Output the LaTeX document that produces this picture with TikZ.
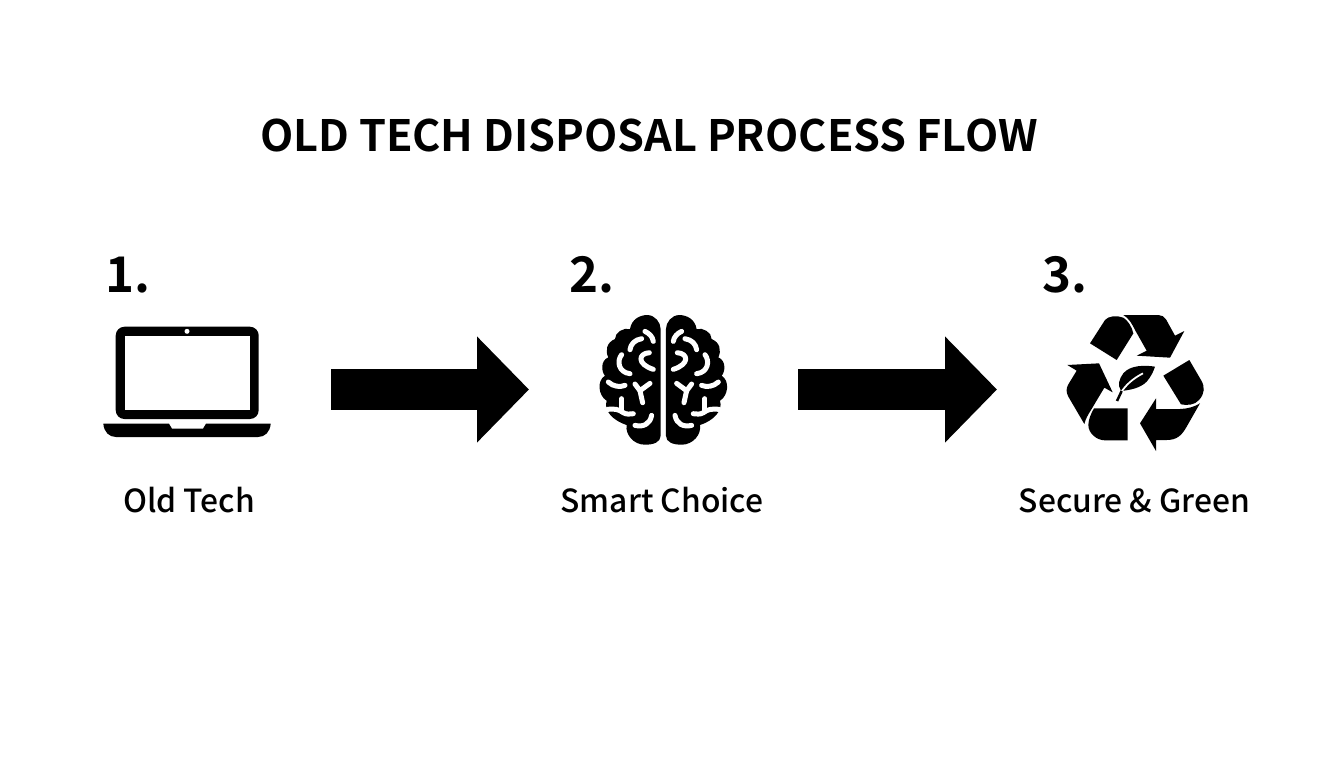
\documentclass[tikz,border=0pt]{standalone}
\usepackage{fontspec}
\usepackage{xcolor}
\setmainfont{Noto Sans CJK SC}[BoldFont={Noto Sans CJK SC Bold}]
\newfontfamily\capfont{Noto Sans CJK SC Medium}
\usetikzlibrary{arrows.meta}

\definecolor{inkblack}{HTML}{000000}
\tikzset{
	title/.style={font=\bfseries\fontsize{24.6}{30}\selectfont,text=inkblack,inner sep=0pt},
	stepnum/.style={font=\bfseries\fontsize{28}{34}\selectfont,text=inkblack,inner sep=0pt},
	caption/.style={font=\capfont\fontsize{18.1}{22}\selectfont,text=inkblack,inner sep=0pt},
	bigarrow/.style={line width=0.82cm,draw=inkblack,-{Triangle[length=1.04cm,width=2.06cm]}},
	groove/.style={draw=white,line width=0.1cm,line cap=round,line join=round},
}

\begin{document}
\begin{tikzpicture}[x=0.02cm,y=-0.02cm]
	\useasboundingbox (0,0) rectangle (1344,768);
	\fill[white] (0,0) rectangle (1344,768);

	\node[title] (heading) at (649,136) {OLD TECH DISPOSAL PROCESS FLOW};

	\node[stepnum] (numA) at (128,275) {1.};
	\node[stepnum] (numB) at (591.5,275) {2.};
	\node[stepnum] (numC) at (1065,275) {3.};

	\node[caption] (capA) at (189,500.5) {Old Tech};
	\node[caption] (capB) at (662,500.5) {Smart Choice};
	\node[caption] (capC) at (1134.5,501) {Secure \& Green};

	% laptop
	\fill[inkblack,rounded corners=5pt] (115.7,419) -- (115.7,326.7) -- (258.7,326.7) -- (258.7,419) -- cycle;
	\fill[white] (125.3,336.3) rectangle (249.7,410.3);
	\fill[white] (187,331.3) circle (2.5);
	\fill[inkblack] (103.3,423.7) -- (169,423.7) -- (172,428.7) -- (203,428.7) -- (206,423.7) -- (270.7,423.7)
		.. controls (270,432) and (265,437) .. (258,437) -- (116,437) .. controls (109,437) and (104,432) .. (103.3,423.7) -- cycle;

	% brain, both halves
	\foreach \side in {-1,1} {
		\begin{scope}[shift={(663.3,440.7)},xscale=\side,x=0.00667cm,y=-0.00667cm]
			\fill[inkblack] (-8,-15) -- (-8,-335) .. controls (-8,-355) and (-25,-377) .. (-48,-377)
				.. controls (-70,-377) and (-95,-365) .. (-100,-335)
				.. controls (-120,-340) and (-145,-325) .. (-145,-305)
				.. controls (-170,-295) and (-175,-270) .. (-165,-250)
				.. controls (-190,-240) and (-185,-205) .. (-175,-195)
				.. controls (-200,-180) and (-195,-135) .. (-170,-120)
				.. controls (-180,-90) and (-150,-60) .. (-110,-47)
				.. controls (-115,-20) and (-90,12) .. (-55,12)
				.. controls (-30,12) and (-8,5) .. (-8,-15) -- cycle;
			\draw[groove] (-55,-328) .. controls (-42,-322) and (-32,-312) .. (-30,-298);
			\draw[groove] (-100,-273) .. controls (-98,-290) and (-85,-303) .. (-65,-306);
			\draw[groove] (-42,-264) .. controls (-75,-262) and (-80,-230) .. (-30,-214);
			\draw[groove] (-125,-258) .. controls (-140,-240) and (-135,-205) .. (-100,-201);
			\draw[groove] (-165,-176) .. controls (-150,-162) and (-130,-160) .. (-115,-166);
			\draw[groove] (-85,-170) -- (-70,-150) -- (-40,-172);
			\draw[groove] (-70,-150) -- (-62,-114);
			\draw[groove] (-168,-94) .. controls (-145,-96) and (-135,-95) .. (-120,-84) .. controls (-110,-78) and (-100,-80) .. (-90,-81);
			\draw[groove] (-125,-126) -- (-125,-90);
			\draw[groove] (-85,-46) .. controls (-60,-40) and (-40,-50) .. (-35,-76);
		\end{scope}
	}

	% recycling symbol with leaf
	\begin{scope}[shift={(1055,305)},x=0.00667cm,y=-0.00667cm]
		\fill[inkblack] (105,115) -- (150,45) .. controls (160,33) and (185,30) .. (205,38) .. controls (220,48) and (230,65) .. (235,85) -- (185,165) -- cycle;
		\fill[inkblack] (205,30) -- (310,30) .. controls (320,30) and (328,35) .. (333,43) -- (360,92) -- (388,78) -- (345,158) -- (245,152) -- (275,137) -- (240,75) .. controls (232,58) and (222,40) .. (205,30) -- cycle;
		\fill[inkblack] (37,180) -- (132,175) -- (173,262) -- (148,248) -- (108,315) .. controls (100,328) and (92,340) .. (88,357) -- (40,275) .. controls (33,262) and (33,250) .. (40,238) -- (65,197) -- cycle;
		\fill[inkblack] (218,310) -- (218,406) -- (150,406) .. controls (125,406) and (100,385) .. (100,360) .. controls (100,345) and (108,325) .. (117,310) -- cycle;
		\fill[inkblack] (403,165) -- (325,212) -- (378,298) .. controls (395,302) and (420,300) .. (432,285) .. controls (450,265) and (450,245) .. (438,225) -- cycle;
		\fill[inkblack] (255,355) -- (303,280) -- (303,312) -- (375,312) .. controls (395,312) and (420,305) .. (435,295) -- (395,365) .. controls (380,392) and (365,405) .. (335,405) -- (303,405) -- (303,438) -- cycle;
		\fill[inkblack] (300,185) .. controls (270,180) and (225,180) .. (205,205) .. controls (192,222) and (187,240) .. (198,258) .. controls (225,255) and (255,250) .. (275,230) .. controls (288,215) and (295,200) .. (300,185) -- cycle;
		\draw[white,line width=0.035cm] (264,205) .. controls (235,220) and (210,240) .. (192,272);
		\draw[inkblack,line width=0.05cm] (200,258) -- (186,288);
	\end{scope}

	% ends of the flow arrows
	\coordinate (laptopE) at (331,389.5);
	\coordinate (brainW) at (529,389.5);
	\coordinate (brainE) at (798,389.5);
	\coordinate (recycleW) at (997,389.5);
	\draw[bigarrow] (laptopE) -- (brainW);
	\draw[bigarrow] (brainE) -- (recycleW);
\end{tikzpicture}
\end{document}
